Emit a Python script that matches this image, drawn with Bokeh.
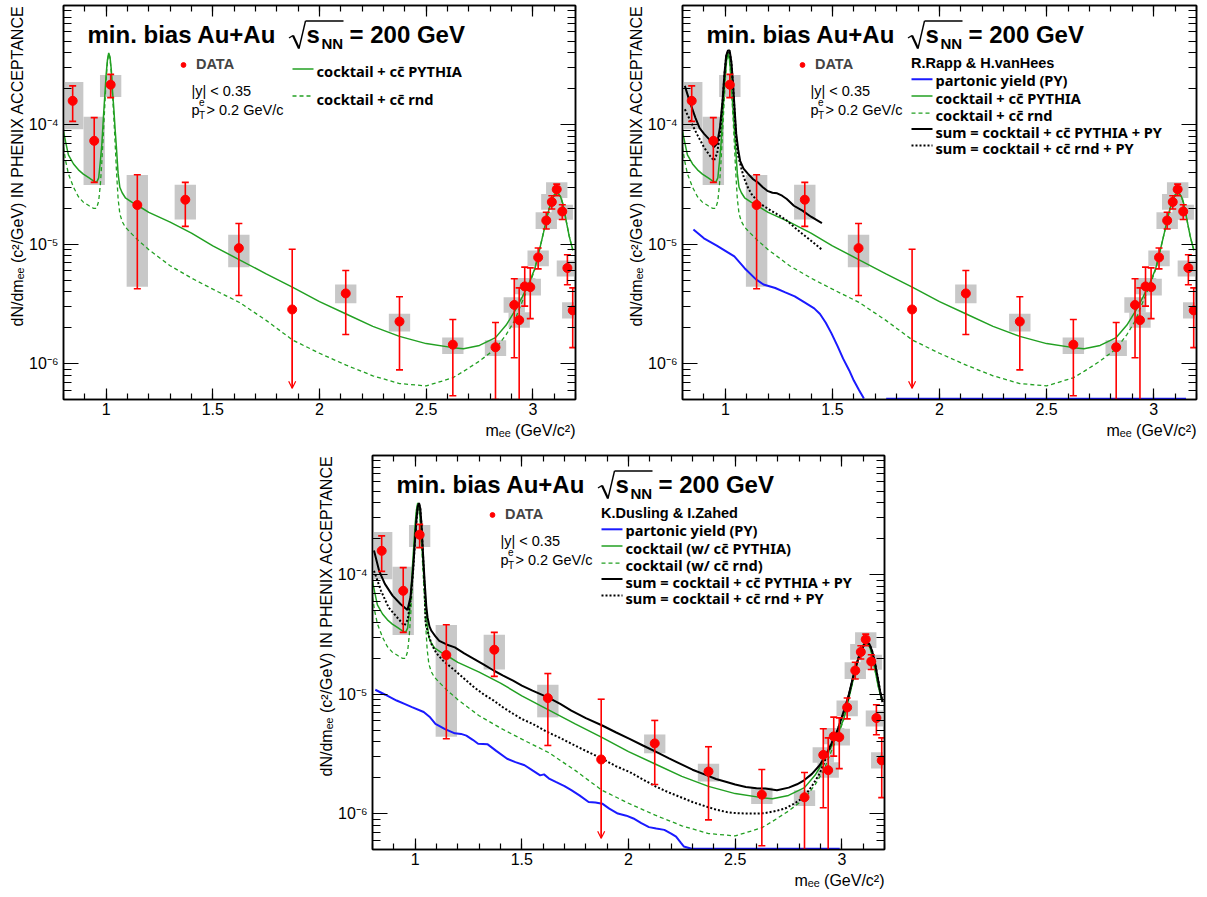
import math
from bokeh.plotting import figure
from bokeh.models import (Range1d, FixedTicker, LinearAxis, LogAxis, Label, Legend, LegendItem,
                          Arrow, OpenHead, Spacer, Title)
from bokeh.layouts import row, column
from bokeh.embed import file_html
from bokeh.resources import INLINE

NAN = float("nan")
FONT = "Liberation Sans"
LEGFONT = "Noto Sans"
RED = "#ff0000"
GREEN = "#22a022"
BLUE = "#1a1aff"
BLACK = "#000000"
GRAY = "#c8c8c8"

# ---------------- data ----------------
mass = [0.843, 0.944, 1.021, 1.146, 1.371, 1.622, 1.872, 2.123, 2.375, 2.625, 2.825,
        2.913, 2.936, 2.962, 2.988, 3.025, 3.063, 3.089, 3.112, 3.138, 3.162, 3.187]
dndm = [1.59e-4, 7.35e-5, 2.17e-4, 2.13e-5, 2.36e-5, 9.27e-6, 2.84e-6, 3.87e-6, 2.25e-6, 1.44e-6, 1.37e-6,
        3.10e-6, 2.31e-6, 4.43e-6, 4.37e-6, 7.75e-6, 1.58e-5, 2.26e-5, 2.88e-5, 1.88e-5, 6.32e-6, 2.79e-6]
stat_hi = [2.12e-4, 1.15e-4, 2.65e-4, 3.82e-5, 3.30e-5, 1.49e-5, 9.08e-6, 6.03e-6, 3.63e-6, 2.34e-6, 2.21e-6,
           5.13e-6, 4.31e-6, 6.43e-6, 6.34e-6, 9.30e-6, 1.85e-5, 2.55e-5, 3.19e-5, 2.14e-5, 8.15e-6, 4.31e-6]
stat_lo = [1.07e-4, 3.30e-5, 1.69e-4, 4.23e-6, 1.41e-5, 3.72e-6, 6.20e-7, 1.75e-6, 8.85e-7, 5.37e-7, 5.00e-7,
           1.12e-6, 4.00e-7, 3.03e-6, 2.38e-6, 6.22e-6, 1.34e-5, 1.97e-5, 2.55e-5, 1.61e-5, 4.57e-6, 1.36e-6]
sys_hi = [2.29e-4, 1.17e-4, 2.62e-4, 3.80e-5, 3.15e-5, 1.20e-5, NAN, 4.60e-6, 2.62e-6, 1.65e-6, 1.57e-6,
          3.60e-6, 2.69e-6, 5.20e-6, 5.13e-6, 8.85e-6, 1.85e-5, 2.64e-5, 3.30e-5, 2.14e-5, 7.30e-6, 3.27e-6]
sys_lo = [9.20e-5, 3.13e-5, 1.71e-4, 4.40e-6, 1.61e-5, 6.40e-6, NAN, 3.20e-6, 1.86e-6, 1.20e-6, 1.16e-6,
          2.67e-6, 2.00e-6, 3.80e-6, 3.72e-6, 6.55e-6, 1.34e-5, 1.94e-5, 2.44e-5, 1.60e-5, 5.37e-6, 2.38e-6]
upper_limit = [False, False, False, False, False, False, True, False, False, False, False,
               False, False, False, False, False, False, False, False, False, False, False]
sys_bin_width = 0.1

cocktail_m = [0.800, 0.810, 0.823, 0.847, 0.870, 0.893, 0.920, 0.940, 0.955, 0.965, 0.973, 0.980, 0.987,
              0.994, 1.000, 1.006, 1.012, 1.018, 1.024, 1.030, 1.036, 1.042, 1.048, 1.056, 1.064, 1.075,
              1.090, 1.120, 1.150, 1.200, 1.300, 1.400, 1.500, 1.625, 1.750, 1.875, 2.000, 2.125, 2.250,
              2.375, 2.500, 2.625, 2.675, 2.750, 2.825, 2.875, 2.915, 2.950, 2.982, 3.010, 3.030, 3.050,
              3.070, 3.085, 3.100, 3.110, 3.120, 3.130, 3.140, 3.150, 3.160, 3.170, 3.180, 3.188]
cocktail_pythia = [8.8e-5, 7.2e-5, 5.6e-5, 4.7e-5, 4.2e-5, 3.87e-5, 3.6e-5, 3.4e-5, 3.3e-5, 3.6e-5, 5.0e-5,
                   7.0e-5, 1.15e-4, 1.8e-4, 2.66e-4, 3.5e-4, 4.0e-4, 3.7e-4, 2.9e-4, 1.9e-4, 1.35e-4, 9.2e-5,
                   6.5e-5, 3.9e-5, 3.0e-5, 2.7e-5, 2.45e-5, 2.25e-5, 2.1e-5, 1.85e-5, 1.53e-5, 1.24e-5,
                   9.7e-6, 7.4e-6, 5.65e-6, 4.35e-6, 3.3e-6, 2.6e-6, 2.05e-6, 1.69e-6, 1.47e-6, 1.36e-6,
                   1.33e-6, 1.42e-6, 1.65e-6, 2.1e-6, 2.75e-6, 3.6e-6, 4.7e-6, 6.3e-6, 8.8e-6, 1.25e-5,
                   1.8e-5, 2.25e-5, 2.58e-5, 2.68e-5, 2.65e-5, 2.5e-5, 2.2e-5, 1.8e-5, 1.45e-5, 1.18e-5,
                   1.0e-5, 8.9e-6]
cocktail_rnd = [6.5e-5, 5.0e-5, 3.9e-5, 3.0e-5, 2.5e-5, 2.25e-5, 2.1e-5, 2.0e-5, 2.0e-5, 2.3e-5, 3.2e-5,
                5.0e-5, 8.5e-5, 1.5e-4, 2.4e-4, 3.4e-4, 3.95e-4, 3.6e-4, 2.75e-4, 1.75e-4, 1.15e-4, 7.0e-5,
                4.2e-5, 2.4e-5, 1.8e-5, 1.55e-5, 1.39e-5, 1.22e-5, 1.08e-5, 9.0e-6, 6.6e-6, 5.2e-6,
                4.2e-6, 3.25e-6, 2.3e-6, 1.57e-6, 1.22e-6, 9.7e-7, 7.9e-7, 6.8e-7, 6.5e-7, 7.6e-7,
                8.6e-7, 1.05e-6, 1.33e-6, 1.75e-6, 2.3e-6, 3.3e-6, 4.5e-6, 6.2e-6, 8.8e-6, 1.25e-5,
                1.8e-5, 2.25e-5, 2.58e-5, 2.68e-5, 2.65e-5, 2.5e-5, 2.2e-5, 1.8e-5, 1.45e-5, 1.18e-5,
                1.0e-5, 8.9e-6]

# R.Rapp & H.vanHees
rapp_py_m = [0.851, 0.900, 0.960, 1.000, 1.042, 1.090, 1.142, 1.178, 1.233, 1.280, 1.324, 1.370, 1.415,
             1.442, 1.469, 1.495, 1.524, 1.550, 1.578, 1.600, 1.624, 1.647, NAN, 1.751, 3.151]
rapp_py = [1.33e-5, 1.12e-5, 9.75e-6, 8.8e-6, 7.9e-6, 6.3e-6, 5.1e-6, 4.6e-6, 4.3e-6, 3.95e-6, 3.65e-6,
           3.25e-6, 2.9e-6, 2.6e-6, 2.2e-6, 1.8e-6, 1.4e-6, 1.1e-6, 8.8e-7, 7.2e-7, 6.0e-7, 5.1e-7, NAN,
           5.08e-7, 5.08e-7]
rapp_sum_m = [0.811, 0.833, 0.860, 0.880, 0.901, 0.924, 0.947, 0.962, 0.975, 0.987, 0.996, 1.004, 1.012,
              1.020, 1.028, 1.036, 1.044, 1.051, 1.060, 1.069, 1.085, 1.105, 1.130, 1.151, 1.175, 1.196,
              1.220, 1.242, 1.265, 1.287, 1.320, 1.360, 1.400, 1.451]
rapp_sum_pythia = [2.12e-4, 1.58e-4, 1.15e-4, 9.4e-5, 8.4e-5, 7.6e-5, 6.5e-5, 7.0e-5, 9.5e-5, 1.6e-4, 2.7e-4,
                   3.8e-4, 4.2e-4, 4.2e-4, 3.4e-4, 2.2e-4, 1.3e-4, 8.4e-5, 6.2e-5, 5.0e-5, 4.3e-5, 3.9e-5,
                   3.5e-5, 3.3e-5, 3.0e-5, 2.8e-5, 2.7e-5, 2.67e-5, 2.55e-5, 2.39e-5, 2.1e-5, 1.91e-5,
                   1.7e-5, 1.5e-5]
rapp_sumrnd_m = [0.811, 0.840, 0.870, 0.900, 0.925, 0.947, 0.962, 0.975, 0.987, 0.996, 1.004, 1.012, 1.020,
                 1.028, 1.036, 1.044, 1.051, 1.060, 1.075, 1.087, 1.105, 1.124, 1.160, 1.215, 1.250, 1.287,
                 1.320, 1.360, 1.400, 1.451]
rapp_sum_rnd = [1.35e-4, 1.05e-4, 8.2e-5, 6.5e-5, 5.6e-5, 5.0e-5, 5.8e-5, 8.5e-5, 1.5e-4, 2.6e-4, 3.7e-4,
                4.1e-4, 4.1e-4, 3.3e-4, 2.1e-4, 1.2e-4, 7.5e-5, 5.5e-5, 4.3e-5, 3.6e-5, 3.0e-5, 2.6e-5,
                2.2e-5, 1.9e-5, 1.75e-5, 1.58e-5, 1.4e-5, 1.22e-5, 1.07e-5, 9.0e-6]

# K.Dusling & I.Zahed
dz_py_m = [0.813, 0.860, 0.913, 0.950, 0.985, 1.040, 1.070, 1.095, 1.140, 1.186, 1.215, 1.240, 1.270,
           1.295, 1.340, 1.380, 1.431, 1.470, 1.513, 1.550, 1.586, 1.604, 1.630, 1.659, 1.700, 1.732,
           1.770, 1.813, 1.845, 1.877, 1.910, 1.950, 1.990, 2.023, 2.060, 2.096, 2.130, 2.168, 2.200,
           2.223, 2.245, 2.259, 2.296, 2.400, 2.990]
dz_py = [1.09e-5, 9.9e-6, 8.85e-6, 8.3e-6, 7.8e-6, 7.1e-6, 6.4e-6, 5.65e-6, 5.1e-6, 4.7e-6, 4.65e-6, 4.5e-6,
         4.15e-6, 3.85e-6, 3.8e-6, 3.35e-6, 2.88e-6, 2.7e-6, 2.54e-6, 2.3e-6, 2.09e-6, 2.13e-6, 1.95e-6,
         1.84e-6, 1.7e-6, 1.57e-6, 1.42e-6, 1.25e-6, 1.24e-6, 1.21e-6, 1.1e-6, 1.0e-6, 9.6e-7, 9.1e-7,
         8.3e-7, 7.7e-7, 7.5e-7, 7.3e-7, 6.8e-7, 6.4e-7, 5.7e-7, 5.3e-7, 5.08e-7, 5.08e-7, 5.08e-7]
dz_sum_m = [0.807, 0.831, 0.858, 0.894, 0.931, 0.964, 0.978, 0.990, 0.998, 1.006, 1.012, 1.018, 1.024,
            1.030, 1.036, 1.044, 1.052, 1.058, 1.067, 1.076, 1.095, 1.113, 1.150, 1.186, 1.230, 1.277,
            1.320, 1.368, 1.410, 1.459, 1.500, 1.550, 1.622, 1.680, 1.732, 1.800, 1.877, 1.940, 2.005,
            2.070, 2.132, 2.190, 2.241, 2.300, 2.368, 2.410, 2.460, 2.500, 2.550, 2.600, 2.641, 2.696,
            2.751, 2.790, 2.823, 2.860, 2.896, 2.925, 2.951, 2.980, 3.005, 3.030, 3.060, 3.085, 3.105,
            3.118, 3.130, 3.142, 3.155, 3.169, 3.180, 3.191]
dz_sum_pythia = [1.6e-4, 1.08e-4, 8.4e-5, 6.7e-5, 5.7e-5, 5.07e-5, 6.5e-5, 1.1e-4, 1.8e-4, 2.9e-4, 3.7e-4,
                 4.0e-4, 3.6e-4, 2.6e-4, 1.6e-4, 9.0e-5, 5.5e-5, 4.4e-5, 3.7e-5, 3.4e-5, 3.05e-5, 2.8e-5,
                 2.6e-5, 2.47e-5, 2.2e-5, 1.97e-5, 1.78e-5, 1.58e-5, 1.44e-5, 1.3e-5, 1.18e-5, 1.07e-5,
                 9.4e-6, 8.3e-6, 7.3e-6, 6.3e-6, 5.47e-6, 4.8e-6, 4.23e-6, 3.7e-6, 3.27e-6, 2.9e-6,
                 2.62e-6, 2.33e-6, 2.09e-6, 1.95e-6, 1.84e-6, 1.75e-6, 1.67e-6, 1.63e-6, 1.62e-6, 1.57e-6,
                 1.65e-6, 1.76e-6, 1.9e-6, 2.15e-6, 2.54e-6, 3.1e-6, 3.85e-6, 5.0e-6, 6.86e-6, 9.5e-6,
                 1.58e-5, 2.2e-5, 2.62e-5, 2.72e-5, 2.62e-5, 2.3e-5, 1.85e-5, 1.35e-5, 1.05e-5, 8.6e-6]
dz_sumrnd_m = [0.807, 0.840, 0.876, 0.922, 0.949, 0.965, 0.978, 0.990, 0.998, 1.006, 1.012, 1.018, 1.024,
               1.030, 1.036, 1.044, 1.049, 1.062, 1.076, 1.100, 1.131, 1.186, 1.230, 1.277, 1.320, 1.368,
               1.410, 1.459, 1.500, 1.550, 1.622, 1.680, 1.732, 1.800, 1.877, 1.940, 2.005, 2.070, 2.132,
               2.190, 2.241, 2.300, 2.368, 2.410, 2.460, 2.500, 2.550, 2.600, 2.641, 2.690, 2.733, 2.780,
               2.823, 2.860, 2.896, 2.925, 2.951, 2.980, 3.005, 3.030, 3.060, 3.085, 3.105, 3.118, 3.130,
               3.142, 3.155, 3.169, 3.180, 3.191]
dz_sum_rnd = [1.08e-4, 7.35e-5, 5.3e-5, 4.27e-5, 3.75e-5, 4.2e-5, 6.0e-5, 1.05e-4, 1.75e-4, 2.85e-4, 3.65e-4,
              3.95e-4, 3.55e-4, 2.55e-4, 1.55e-4, 8.0e-5, 3.9e-5, 3.2e-5, 2.64e-5, 2.2e-5, 1.91e-5, 1.58e-5,
              1.35e-5, 1.14e-5, 1.0e-5, 8.85e-6, 7.8e-6, 6.86e-6, 6.2e-6, 5.65e-6, 4.8e-6, 4.3e-6, 3.85e-6,
              3.35e-6, 2.88e-6, 2.5e-6, 2.23e-6, 1.92e-6, 1.67e-6, 1.5e-6, 1.38e-6, 1.25e-6, 1.14e-6,
              1.08e-6, 1.03e-6, 1.01e-6, 1.0e-6, 1.0e-6, 1.01e-6, 1.05e-6, 1.1e-6, 1.22e-6, 1.38e-6, 1.7e-6,
              2.16e-6, 2.9e-6, 3.85e-6, 5.0e-6, 6.7e-6, 9.3e-6, 1.58e-5, 2.2e-5, 2.62e-5, 2.72e-5, 2.62e-5,
              2.3e-5, 1.85e-5, 1.35e-5, 1.05e-5, 8.6e-6]

x_major = [1.0, 1.5, 2.0, 2.5, 3.0]
x_minor = [round(0.8 + 0.1 * i, 2) for i in range(25)]
y_major = [1e-6, 1e-5, 1e-4]
y_minor = [m * 10.0 ** e for e in (-7, -6, -5, -4) for m in range(2, 10) if 5e-7 <= m * 10.0 ** e <= 1e-3]
y_labels = {1e-6: "10\u207b\u2076", 1e-5: "10\u207b\u2075", 1e-4: "10\u207b\u2074"}
x_lo, x_hi = 0.8, 3.2
y_lo, y_hi = 5e-7, 1e-3

CC = "cc\u0304"
XTITLE = "m\u2091\u2091 (GeV/c\u00b2)"
YTITLE = "dN/dm\u2091\u2091 (c\u00b2/GeV) IN PHENIX ACCEPTANCE"

FH = 394  # frame height in px


def style_axis(ax, major_len, minor_len, show_labels):
    ax.major_tick_in = major_len
    ax.major_tick_out = 0
    ax.minor_tick_in = minor_len
    ax.minor_tick_out = 0
    ax.axis_line_color = BLACK
    ax.axis_line_width = 1.5
    ax.major_tick_line_width = 1.2
    ax.minor_tick_line_width = 1.2
    ax.major_label_text_font = FONT
    ax.major_label_text_color = BLACK
    if show_labels:
        ax.major_label_text_font_size = "16px"
    else:
        ax.major_label_text_font_size = "1px"
        ax.major_label_text_alpha = 0.0
        ax.major_label_standoff = 0


def make_panel(width, height, bl, br, bt, bb):
    p = figure(width=width, height=height, x_range=Range1d(x_lo, x_hi), y_range=Range1d(y_lo, y_hi),
               y_axis_type="log", output_backend="svg", toolbar_location=None,
               min_border_left=bl, min_border_right=br, min_border_top=bt, min_border_bottom=bb)
    p.grid.visible = False
    p.outline_line_color = BLACK
    p.outline_line_width = 1.5
    p.background_fill_color = "white"
    p.border_fill_color = "white"

    xax = p.xaxis[0]
    xax.ticker = FixedTicker(ticks=x_major, minor_ticks=x_minor)
    style_axis(xax, 11, 6, True)
    xax.major_label_standoff = 3

    yax = p.yaxis[0]
    yax.ticker = FixedTicker(ticks=y_major, minor_ticks=y_minor)
    style_axis(yax, 15, 8, True)
    yax.major_label_standoff = 5
    overrides = {}
    for k, v in y_labels.items():
        overrides[k] = v
        overrides[repr(k)] = v
    overrides["0.000001"] = y_labels[1e-6]
    overrides["0.00001"] = y_labels[1e-5]
    overrides["0.0001"] = y_labels[1e-4]
    yax.major_label_overrides = overrides

    top = LinearAxis(ticker=FixedTicker(ticks=x_major, minor_ticks=x_minor))
    style_axis(top, 11, 6, False)
    p.add_layout(top, "above")
    right = LogAxis(ticker=FixedTicker(ticks=y_major, minor_ticks=y_minor))
    style_axis(right, 15, 8, False)
    p.add_layout(right, "right")

    # axis titles (ROOT style: aligned to the end of the axis)
    p.add_layout(Title(text=XTITLE, align="right", text_font=FONT, text_font_size="16px",
                       text_font_style="normal", text_color=BLACK, standoff=4), "below")
    p.add_layout(Title(text=YTITLE, align="right", text_font=FONT, text_font_size="16px",
                       text_font_style="normal", text_color=BLACK, standoff=0), "left")
    return p


def add_boxes(p):
    idx = [i for i in range(len(mass)) if not math.isnan(sys_hi[i])]
    p.quad(left=[mass[i] - sys_bin_width / 2 for i in idx], right=[mass[i] + sys_bin_width / 2 for i in idx],
           bottom=[sys_lo[i] for i in idx], top=[sys_hi[i] for i in idx],
           fill_color=GRAY, line_color=None)


def add_data(p):
    p.segment(x0=mass, y0=stat_lo, x1=mass, y1=stat_hi, line_color=RED, line_width=1.6)
    p.scatter(x=mass, y=stat_hi, marker="dash", size=7, line_color=RED, line_width=1.6)
    lo_idx = [i for i in range(len(mass)) if not upper_limit[i]]
    p.scatter(x=[mass[i] for i in lo_idx], y=[stat_lo[i] for i in lo_idx], marker="dash", size=7,
              line_color=RED, line_width=1.6)
    for i in range(len(mass)):
        if upper_limit[i]:
            p.add_layout(Arrow(end=OpenHead(size=7, line_color=RED, line_width=1.2),
                               x_start=mass[i], y_start=dndm[i], x_end=mass[i], y_end=stat_lo[i],
                               line_color=RED, line_width=1.0))
    r = p.scatter(x=mass, y=dndm, marker="circle", size=9, fill_color=RED, line_color=RED)
    return r


def slabel(p, x, y_center, text, size, style="normal", font=FONT):
    # y_center: visual middle of the text, in px from the top of the frame
    p.add_layout(Label(x=x, y=FH - y_center, x_units="screen", y_units="screen", text=text,
                       text_font=font, text_font_size=size, text_font_style=style,
                       text_baseline="middle", text_align="left", text_color=BLACK))


def sline(p, x0, y0, x1, y1, w=1.6, color=BLACK, dash="solid"):
    p.add_layout(Arrow(start=None, end=None, x_start=x0, y_start=FH - y0, x_end=x1, y_end=FH - y1,
                       start_units="screen", end_units="screen", line_color=color, line_width=w,
                       line_dash=dash))


def add_common_text(p, data_r):
    # title with square root sign
    slabel(p, 24, 28.5, "min. bias Au+Au", "24px", "bold")
    sline(p, 225.5, 32.5, 229.5, 30.0, 1.4)
    sline(p, 229.5, 30.0, 235.5, 43.0, 2.2)
    sline(p, 235.5, 43.0, 242.0, 15.5, 1.4)
    sline(p, 242.0, 15.5, 280.0, 15.5, 1.4)
    slabel(p, 243, 28.5, "s", "24px", "bold")
    slabel(p, 258, 38.0, "NN", "15px", "bold")
    slabel(p, 286, 28.5, "= 200 GeV", "24px", "bold")
    # cuts
    slabel(p, 128, 85.0, "|y| < 0.35", "14.5px")
    slabel(p, 128, 104.5, "p", "14.5px")
    slabel(p, 135.5, 96.0, "e", "10px")
    slabel(p, 135.5, 110.0, "T", "10px")
    slabel(p, 143, 104.5, "> 0.2 GeV/c", "14.5px")
    # DATA legend
    leg = Legend(items=[LegendItem(label="DATA", renderers=[data_r])], location=(114, FH - 67.5),
                 glyph_width=12, glyph_height=17, label_height=17, label_standoff=7,
                 padding=0, margin=0, spacing=0, border_line_color=None, background_fill_alpha=0,
                 label_text_font=FONT, label_text_font_style="bold", label_text_font_size="14.5px")
    p.add_layout(leg)


def model_key(p, entries, text_centers, line_ys):
    # entries: (label, color, width, dash)
    for (text, color, width, dash), yc, yl in zip(entries, text_centers, line_ys):
        sline(p, 229, yl, 250, yl, width, color, dash)
        slabel(p, 253, yc, text, "14.6px", "bold", font=LEGFONT)


# ---------------- panel 1 : cocktail only ----------------
p1 = make_panel(600, 450, 63, 25, 5, 51)
add_boxes(p1)
p1.line(cocktail_m, cocktail_pythia, line_color=GREEN, line_width=1.5)
p1.line(cocktail_m, cocktail_rnd, line_color=GREEN, line_width=1.3, line_dash="4 3")
d1 = add_data(p1)
add_common_text(p1, d1)
model_key(p1, [("cocktail + " + CC + " PYTHIA", GREEN, 1.5, "solid"),
               ("cocktail + " + CC + " rnd", GREEN, 1.3, "4 3")],
          [65.5, 93.0], [63.5, 90.5])

# ---------------- panel 2 : Rapp & van Hees ----------------
p2 = make_panel(607, 450, 82, 11, 5, 51)
add_boxes(p2)
p2.line(rapp_py_m, rapp_py, line_color=BLUE, line_width=2)
p2.line(cocktail_m, cocktail_pythia, line_color=GREEN, line_width=1.5)
p2.line(cocktail_m, cocktail_rnd, line_color=GREEN, line_width=1.3, line_dash="4 3")
p2.line(rapp_sum_m, rapp_sum_pythia, line_color=BLACK, line_width=2)
p2.line(rapp_sumrnd_m, rapp_sum_rnd, line_color=BLACK, line_width=2, line_dash="2 2")
d2 = add_data(p2)
add_common_text(p2, d2)
slabel(p2, 228.5, 57.5, "R.Rapp & H.vanHees", "14.5px", "bold")
KEY_TEXT_Y = [74.0, 92.5, 109.5, 126.5, 142.5]
KEY_LINE_Y = [73.8, 90.5, 107.7, 123.5, 140.0]
model_key(p2, [("partonic yield (PY)", BLUE, 2, "solid"),
               ("cocktail + " + CC + " PYTHIA", GREEN, 1.5, "solid"),
               ("cocktail + " + CC + " rnd", GREEN, 1.3, "4 3"),
               ("sum = cocktail + " + CC + " PYTHIA + PY", BLACK, 2, "solid"),
               ("sum = cocktail + " + CC + " rnd + PY", BLACK, 2, "2 2")], KEY_TEXT_Y, KEY_LINE_Y)

# ---------------- panel 3 : Dusling & Zahed ----------------
p3 = make_panel(607, 447, 72, 23, 5, 48)
add_boxes(p3)
p3.line(dz_py_m, dz_py, line_color=BLUE, line_width=2)
p3.line(cocktail_m, cocktail_pythia, line_color=GREEN, line_width=1.5)
p3.line(cocktail_m, cocktail_rnd, line_color=GREEN, line_width=1.3, line_dash="4 3")
p3.line(dz_sum_m, dz_sum_pythia, line_color=BLACK, line_width=2)
p3.line(dz_sumrnd_m, dz_sum_rnd, line_color=BLACK, line_width=2, line_dash="2 2")
d3 = add_data(p3)
add_common_text(p3, d3)
slabel(p3, 228.5, 57.5, "K.Dusling & I.Zahed", "14.5px", "bold")
model_key(p3, [("partonic yield (PY)", BLUE, 2, "solid"),
               ("cocktail (w/ " + CC + " PYTHIA)", GREEN, 1.5, "solid"),
               ("cocktail (w/ " + CC + " rnd)", GREEN, 1.3, "4 3"),
               ("sum = cocktail + " + CC + " PYTHIA + PY", BLACK, 2, "solid"),
               ("sum = cocktail + " + CC + " rnd + PY", BLACK, 2, "2 2")], KEY_TEXT_Y, KEY_LINE_Y)

layout = column(row(p1, p2), row(Spacer(width=300, height=447), p3))
open("out.html", "w").write(file_html(layout, INLINE))
